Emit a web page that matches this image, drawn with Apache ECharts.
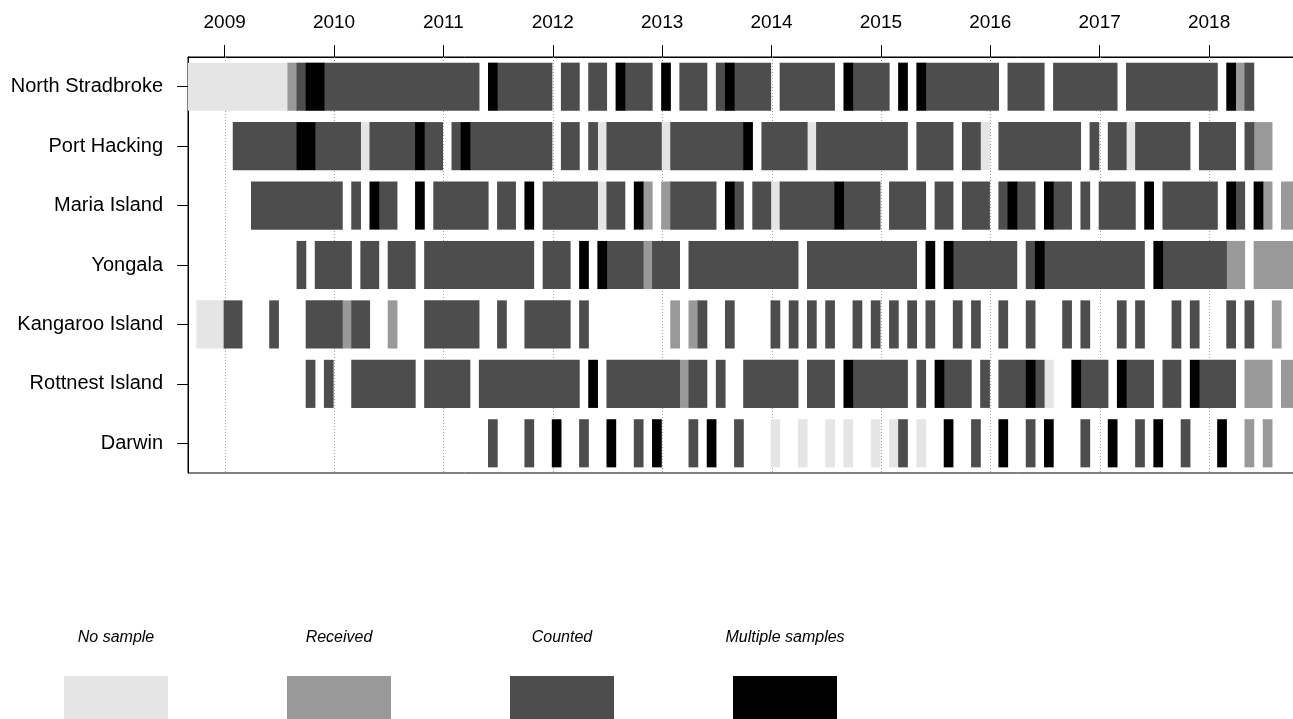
<!DOCTYPE html>
<html>
<head>
<meta charset="utf-8">
<script src="https://cdn.jsdelivr.net/npm/echarts@6/dist/echarts.min.js"></script>
<style>
  html, body { margin: 0; padding: 0; background: #fff; }
  #chart { width: 1293px; height: 719px; }
</style>
</head>
<body>
<div id="chart"></div>
<script>
// stations, top to bottom
const stations = ['North Stradbroke', 'Port Hacking', 'Maria Island', 'Yongala', 'Kangaroo Island', 'Rottnest Island', 'Darwin'];
const years = [2009, 2010, 2011, 2012, 2013, 2014, 2015, 2016, 2017, 2018];

// status codes: N = no sample, R = received, C = counted, M = multiple samples
const statusCodes = ['N', 'R', 'C', 'M'];
const statusNames = ['No sample', 'Received', 'Counted', 'Multiple samples'];

// runs of months [from, to, status]
const northStradbroke = [
  ['2008-09', '2009-07', 'N'], ['2009-08', '2009-08', 'R'], ['2009-09', '2009-09', 'C'], ['2009-10', '2009-11', 'M'],
  ['2009-12', '2011-04', 'C'], ['2011-06', '2011-06', 'M'], ['2011-07', '2011-12', 'C'], ['2012-02', '2012-03', 'C'],
  ['2012-05', '2012-06', 'C'], ['2012-08', '2012-08', 'M'], ['2012-09', '2012-11', 'C'], ['2013-01', '2013-01', 'M'],
  ['2013-03', '2013-05', 'C'], ['2013-07', '2013-07', 'C'], ['2013-08', '2013-08', 'M'], ['2013-09', '2013-12', 'C'],
  ['2014-02', '2014-07', 'C'], ['2014-09', '2014-09', 'M'], ['2014-10', '2015-01', 'C'], ['2015-03', '2015-03', 'M'],
  ['2015-05', '2015-05', 'M'], ['2015-06', '2016-01', 'C'], ['2016-03', '2016-06', 'C'], ['2016-08', '2017-02', 'C'],
  ['2017-04', '2018-01', 'C'], ['2018-03', '2018-03', 'M'], ['2018-04', '2018-04', 'R'], ['2018-05', '2018-05', 'C']
];
const portHacking = [
  ['2009-02', '2009-08', 'C'], ['2009-09', '2009-10', 'M'], ['2009-11', '2010-03', 'C'], ['2010-04', '2010-04', 'N'],
  ['2010-05', '2010-09', 'C'], ['2010-10', '2010-10', 'M'], ['2010-11', '2010-12', 'C'], ['2011-02', '2011-02', 'C'],
  ['2011-03', '2011-03', 'M'], ['2011-04', '2011-12', 'C'], ['2012-02', '2012-03', 'C'], ['2012-05', '2012-05', 'C'],
  ['2012-06', '2012-06', 'N'], ['2012-07', '2012-12', 'C'], ['2013-01', '2013-01', 'N'], ['2013-02', '2013-09', 'C'],
  ['2013-10', '2013-10', 'M'], ['2013-12', '2014-04', 'C'], ['2014-05', '2014-05', 'N'], ['2014-06', '2015-03', 'C'],
  ['2015-05', '2015-08', 'C'], ['2015-10', '2015-11', 'C'], ['2015-12', '2015-12', 'N'], ['2016-02', '2016-10', 'C'],
  ['2016-12', '2016-12', 'C'], ['2017-02', '2017-03', 'C'], ['2017-04', '2017-04', 'N'], ['2017-05', '2017-10', 'C'],
  ['2017-12', '2018-03', 'C'], ['2018-05', '2018-05', 'C'], ['2018-06', '2018-07', 'R']
];
const mariaIsland = [
  ['2009-04', '2010-01', 'C'], ['2010-03', '2010-03', 'C'], ['2010-05', '2010-05', 'M'], ['2010-06', '2010-07', 'C'],
  ['2010-10', '2010-10', 'M'], ['2010-12', '2011-05', 'C'], ['2011-07', '2011-08', 'C'], ['2011-10', '2011-10', 'M'],
  ['2011-12', '2012-05', 'C'], ['2012-06', '2012-06', 'N'], ['2012-07', '2012-08', 'C'], ['2012-10', '2012-10', 'M'],
  ['2012-11', '2012-11', 'R'], ['2013-01', '2013-01', 'R'], ['2013-02', '2013-06', 'C'], ['2013-08', '2013-08', 'M'],
  ['2013-09', '2013-09', 'C'], ['2013-11', '2013-12', 'C'], ['2014-01', '2014-01', 'N'], ['2014-02', '2014-07', 'C'],
  ['2014-08', '2014-08', 'M'], ['2014-09', '2014-12', 'C'], ['2015-02', '2015-05', 'C'], ['2015-07', '2015-08', 'C'],
  ['2015-10', '2015-12', 'C'], ['2016-02', '2016-02', 'C'], ['2016-03', '2016-03', 'M'], ['2016-04', '2016-05', 'C'],
  ['2016-07', '2016-07', 'M'], ['2016-08', '2016-09', 'C'], ['2016-11', '2016-11', 'C'], ['2017-01', '2017-04', 'C'],
  ['2017-06', '2017-06', 'M'], ['2017-08', '2018-01', 'C'], ['2018-03', '2018-03', 'M'], ['2018-04', '2018-04', 'C'],
  ['2018-06', '2018-06', 'M'], ['2018-07', '2018-07', 'R'], ['2018-09', '2018-10', 'R']
];
const yongala = [
  ['2009-09', '2009-09', 'C'], ['2009-11', '2010-02', 'C'], ['2010-04', '2010-05', 'C'], ['2010-07', '2010-09', 'C'],
  ['2010-11', '2011-10', 'C'], ['2011-12', '2012-02', 'C'], ['2012-04', '2012-04', 'M'], ['2012-06', '2012-06', 'M'],
  ['2012-07', '2012-10', 'C'], ['2012-11', '2012-11', 'R'], ['2012-12', '2013-02', 'C'], ['2013-04', '2014-03', 'C'],
  ['2014-05', '2015-04', 'C'], ['2015-06', '2015-06', 'M'], ['2015-08', '2015-08', 'M'], ['2015-09', '2016-03', 'C'],
  ['2016-05', '2016-05', 'C'], ['2016-06', '2016-06', 'M'], ['2016-07', '2017-05', 'C'], ['2017-07', '2017-07', 'M'],
  ['2017-08', '2018-02', 'C'], ['2018-03', '2018-04', 'R'], ['2018-06', '2018-10', 'R']
];
const kangarooIsland = [
  ['2008-10', '2008-12', 'N'], ['2009-01', '2009-02', 'C'], ['2009-06', '2009-06', 'C'], ['2009-10', '2010-01', 'C'],
  ['2010-02', '2010-02', 'R'], ['2010-03', '2010-04', 'C'], ['2010-07', '2010-07', 'R'], ['2010-11', '2011-04', 'C'],
  ['2011-07', '2011-07', 'C'], ['2011-10', '2012-02', 'C'], ['2012-04', '2012-04', 'C'], ['2013-02', '2013-02', 'R'],
  ['2013-04', '2013-04', 'R'], ['2013-05', '2013-05', 'C'], ['2013-08', '2013-08', 'C'], ['2014-01', '2014-01', 'C'],
  ['2014-03', '2014-03', 'C'], ['2014-05', '2014-05', 'C'], ['2014-07', '2014-07', 'C'], ['2014-10', '2014-10', 'C'],
  ['2014-12', '2014-12', 'C'], ['2015-02', '2015-02', 'C'], ['2015-04', '2015-04', 'C'], ['2015-06', '2015-06', 'C'],
  ['2015-09', '2015-09', 'C'], ['2015-11', '2015-11', 'C'], ['2016-02', '2016-02', 'C'], ['2016-05', '2016-05', 'C'],
  ['2016-09', '2016-09', 'C'], ['2016-11', '2016-11', 'C'], ['2017-03', '2017-03', 'C'], ['2017-05', '2017-05', 'C'],
  ['2017-09', '2017-09', 'C'], ['2017-11', '2017-11', 'C'], ['2018-03', '2018-03', 'C'], ['2018-05', '2018-05', 'C'],
  ['2018-08', '2018-08', 'R']
];
const rottnestIsland = [
  ['2009-10', '2009-10', 'C'], ['2009-12', '2009-12', 'C'], ['2010-03', '2010-09', 'C'], ['2010-11', '2011-03', 'C'],
  ['2011-05', '2012-03', 'C'], ['2012-05', '2012-05', 'M'], ['2012-07', '2013-02', 'C'], ['2013-03', '2013-03', 'R'],
  ['2013-04', '2013-05', 'C'], ['2013-07', '2013-07', 'C'], ['2013-10', '2014-03', 'C'], ['2014-05', '2014-07', 'C'],
  ['2014-09', '2014-09', 'M'], ['2014-10', '2015-03', 'C'], ['2015-05', '2015-05', 'C'], ['2015-07', '2015-07', 'M'],
  ['2015-08', '2015-10', 'C'], ['2015-12', '2015-12', 'C'], ['2016-02', '2016-04', 'C'], ['2016-05', '2016-05', 'M'],
  ['2016-06', '2016-06', 'C'], ['2016-07', '2016-07', 'N'], ['2016-10', '2016-10', 'M'], ['2016-11', '2017-01', 'C'],
  ['2017-03', '2017-03', 'M'], ['2017-04', '2017-06', 'C'], ['2017-08', '2017-09', 'C'], ['2017-11', '2017-11', 'M'],
  ['2017-12', '2018-03', 'C'], ['2018-05', '2018-07', 'R'], ['2018-09', '2018-10', 'R']
];
const darwin = [
  ['2011-06', '2011-06', 'C'], ['2011-10', '2011-10', 'C'], ['2012-01', '2012-01', 'M'], ['2012-04', '2012-04', 'C'],
  ['2012-07', '2012-07', 'M'], ['2012-10', '2012-10', 'C'], ['2012-12', '2012-12', 'M'], ['2013-04', '2013-04', 'C'],
  ['2013-06', '2013-06', 'M'], ['2013-09', '2013-09', 'C'], ['2014-01', '2014-01', 'N'], ['2014-04', '2014-04', 'N'],
  ['2014-07', '2014-07', 'N'], ['2014-09', '2014-09', 'N'], ['2014-12', '2014-12', 'N'], ['2015-02', '2015-02', 'N'],
  ['2015-03', '2015-03', 'C'], ['2015-05', '2015-05', 'N'], ['2015-08', '2015-08', 'M'], ['2015-11', '2015-11', 'C'],
  ['2016-02', '2016-02', 'M'], ['2016-05', '2016-05', 'C'], ['2016-07', '2016-07', 'M'], ['2016-11', '2016-11', 'C'],
  ['2017-02', '2017-02', 'M'], ['2017-05', '2017-05', 'C'], ['2017-07', '2017-07', 'M'], ['2017-10', '2017-10', 'C'],
  ['2018-02', '2018-02', 'M'], ['2018-05', '2018-05', 'R'], ['2018-07', '2018-07', 'R']
];
const stationRuns = [northStradbroke, portHacking, mariaIsland, yongala, kangarooIsland, rottnestIsland, darwin];

const colors = { N: '#e5e5e5', R: '#999999', C: '#4d4d4d', M: '#000000' };
const font = "'Liberation Sans', Arial, sans-serif";

// month string -> decimal year
function ym(s) {
  const [y, m] = s.split('-').map(Number);
  return y + (m - 1) / 12;
}

// plot box runs past the right edge of the picture
const pxPerYear = 109.38;
const gridLeft = 188;
const gridWidth = 1125;
const xMin = 2008.665;
const xMax = xMin + gridWidth / pxPerYear;

const myChart = echarts.init(document.getElementById('chart'));

const barSeries = statusCodes.map(function (code, si) {
  const data = [];
  stationRuns.forEach(function (runs, i) {
    runs.forEach(function (r) {
      if (r[2] === code) data.push([ym(r[0]), ym(r[1]) + 1 / 12, i]);
    });
  });
  return {
    name: statusNames[si],
    type: 'custom',
    z: 3,
    encode: { x: [0, 1], y: 2 },
    data: data,
    renderItem: function (params, api) {
      const row = api.value(2);
      const p0 = api.coord([api.value(0), row]);
      const p1 = api.coord([api.value(1), row]);
      const h = api.size([0, 1])[1] * 0.81;
      const cs = params.coordSys;
      const shape = echarts.graphic.clipRectByRect(
        { x: p0[0] - 1, y: p0[1] - h / 2, width: p1[0] - p0[0] + 0.6, height: h },
        { x: cs.x, y: cs.y, width: cs.width, height: cs.height }
      );
      return shape && { type: 'rect', shape: shape, style: { fill: colors[code] } };
    }
  };
});

// dotted year lines behind the bars
const yearLines = {
  type: 'custom',
  z: 1,
  silent: true,
  encode: { x: 0, y: 1 },
  data: years.map(function (y) { return [y, 0]; }),
  renderItem: function (params, api) {
    const x = Math.round(api.coord([api.value(0), 0])[0]) + 0.5;
    const cs = params.coordSys;
    return {
      type: 'line',
      shape: { x1: x, y1: cs.y, x2: x, y2: cs.y + cs.height },
      style: { stroke: '#a0a0a0', lineWidth: 1, lineDash: [1, 2] }
    };
  }
};

// legend drawn below the plot
const legendX = [116, 339, 562, 785];
const legendGraphics = [];
statusCodes.forEach(function (code, i) {
  legendGraphics.push({
    type: 'text',
    x: legendX[i],
    y: 638,
    style: {
      text: statusNames[i], fontSize: 16, fontStyle: 'italic', fontFamily: font,
      fill: '#000', align: 'center', verticalAlign: 'middle'
    }
  });
  legendGraphics.push({
    type: 'rect',
    shape: { x: legendX[i] - 52, y: 676, width: 104, height: 60 },
    style: { fill: colors[code] }
  });
});

myChart.setOption({
  animation: false,
  backgroundColor: '#fff',
  textStyle: { fontFamily: font },
  grid: {
    left: gridLeft,
    width: gridWidth,
    top: 57,
    bottom: 246,
    outerBoundsMode: 'none',
    containLabel: false,
    show: true,
    borderColor: '#000',
    borderWidth: 1,
    backgroundColor: 'transparent'
  },
  xAxis: {
    type: 'value',
    position: 'top',
    min: xMin,
    max: xMax,
    axisLine: { show: true, lineStyle: { color: '#000', width: 1 } },
    axisTick: { show: true, customValues: years, length: 12, lineStyle: { color: '#000' } },
    axisLabel: {
      customValues: years, fontSize: 19, color: '#000', margin: 25, fontFamily: font,
      formatter: function (v) { return String(Math.round(v)); }
    },
    splitLine: { show: false }
  },
  yAxis: {
    type: 'category',
    inverse: true,
    data: stations,
    axisLine: { show: true, lineStyle: { color: '#000' } },
    axisTick: { show: true, alignWithLabel: true, length: 11, lineStyle: { color: '#000' } },
    axisLabel: { fontSize: 20, color: '#000', margin: 25, fontFamily: font },
    splitLine: { show: false }
  },
  graphic: legendGraphics,
  series: [yearLines].concat(barSeries)
});

window.onresize = function () {
  myChart.resize();
};
</script>
</body>
</html>
